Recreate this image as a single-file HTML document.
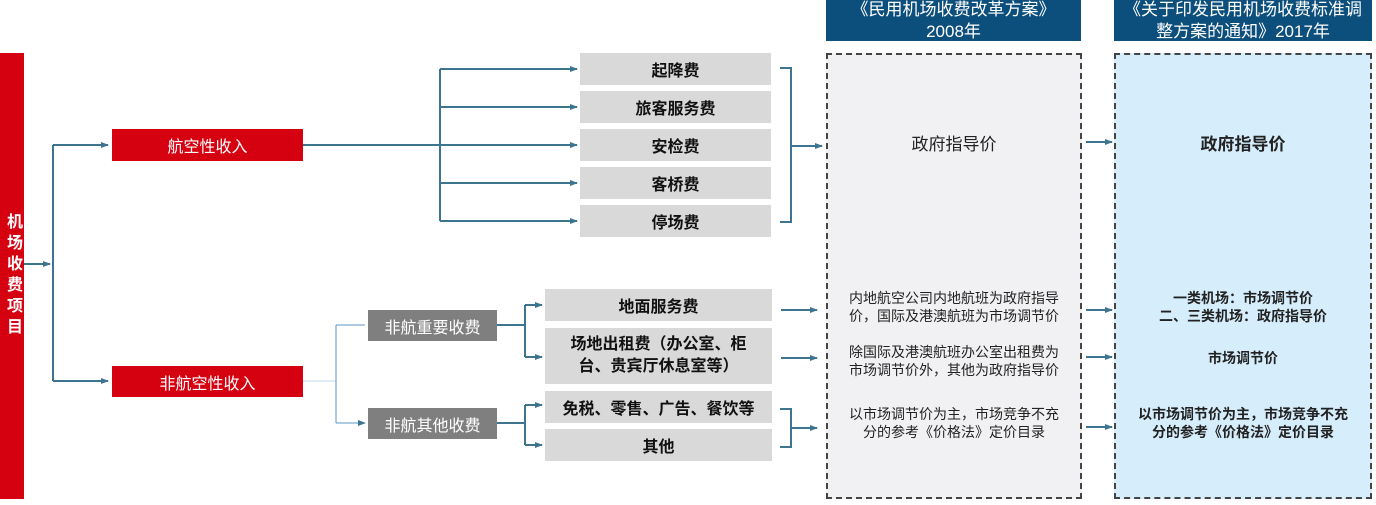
<!DOCTYPE html>
<html><head><meta charset="utf-8"><style>
body{margin:0;width:1376px;height:505px;background:#fff;position:relative;overflow:hidden;font-family:"Liberation Sans","Noto Sans CJK SC",sans-serif;}
.b{position:absolute;display:flex;align-items:center;justify-content:center;text-align:center;box-sizing:border-box;}
.red{background:#d50010;color:#fff;font-size:16px;}
.gry{background:#d9d9d9;color:#111;font-size:16px;font-weight:bold;}
.dg{background:#7f7f7f;color:#fff;font-size:16px;}
.hd{background:#0d4f7c;color:#fff;font-size:17px;line-height:22px;}
.t{position:absolute;text-align:center;font-size:14px;line-height:18px;color:#222;}
</style></head><body>
<div class="b red" style="left:0;top:53px;width:24px;height:446px;writing-mode:vertical-rl;font-weight:bold;font-size:16px;letter-spacing:5px">机场收费项目</div>
<div class="b red" style="left:112px;top:129px;width:191px;height:32px">航空性收入</div>
<div class="b red" style="left:112px;top:366px;width:191px;height:31px">非航空性收入</div>
<div class="b gry" style="left:580px;top:53px;width:191px;height:32px">起降费</div>
<div class="b gry" style="left:580px;top:91px;width:191px;height:32px">旅客服务费</div>
<div class="b gry" style="left:580px;top:129px;width:191px;height:32px">安检费</div>
<div class="b gry" style="left:580px;top:167px;width:191px;height:32px">客桥费</div>
<div class="b gry" style="left:580px;top:205px;width:191px;height:32px">停场费</div>
<div class="b dg" style="left:368px;top:310px;width:129px;height:31px">非航重要收费</div>
<div class="b dg" style="left:368px;top:408px;width:129px;height:31px">非航其他收费</div>
<div class="b gry" style="left:545px;top:289px;width:227px;height:32px">地面服务费</div>
<div class="b gry" style="left:545px;top:328px;width:227px;height:56px;line-height:22px">场地出租费（办公室、柜<br>台、贵宾厅休息室等）</div>
<div class="b gry" style="left:545px;top:391px;width:227px;height:32px">免税、零售、广告、餐饮等</div>
<div class="b gry" style="left:545px;top:429px;width:227px;height:32px">其他</div>
<div class="b hd" style="left:826px;top:0;width:255px;height:41px">《民用机场收费改革方案》<br>2008年</div>
<div class="b hd" style="left:1114px;top:0;width:258px;height:41px">《关于印发民用机场收费标准调<br>整方案的通知》2017年</div>
<div style="position:absolute;left:826px;top:53px;width:256px;height:446px;box-sizing:border-box;border:2px dashed #444;background:#f1f1f3"></div>
<div style="position:absolute;left:1114px;top:53px;width:258px;height:446px;box-sizing:border-box;border:2px dashed #444;background:#d6eefc"></div>
<div class="t" style="left:826px;top:136px;width:256px;font-size:17px">政府指导价</div>
<div class="t" style="left:826px;top:289px;width:256px">内地航空公司内地航班为政府指导<br>价，国际及港澳航班为市场调节价</div>
<div class="t" style="left:826px;top:343px;width:256px">除国际及港澳航班办公室出租费为<br>市场调节价外，其他为政府指导价</div>
<div class="t" style="left:826px;top:405px;width:256px">以市场调节价为主，市场竞争不充<br>分的参考《价格法》定价目录</div>
<div class="t" style="left:1114px;top:136px;width:258px;font-size:17px;font-weight:bold">政府指导价</div>
<div class="t" style="left:1114px;top:289px;width:258px;font-weight:bold">一类机场：市场调节价<br>二、三类机场：政府指导价</div>
<div class="t" style="left:1114px;top:349px;width:258px;font-weight:bold">市场调节价</div>
<div class="t" style="left:1114px;top:405px;width:258px;font-weight:bold">以市场调节价为主，市场竞争不充<br>分的参考《价格法》定价目录</div>
<svg width="1376" height="505" style="position:absolute;left:0;top:0" fill="none" stroke="#3d7590" stroke-width="2">
<defs><marker id="a" markerWidth="8" markerHeight="8" refX="7" refY="4" orient="auto" markerUnits="userSpaceOnUse"><path d="M0,1 L8,4 L0,7z" fill="#3d7590" stroke="none"/></marker></defs>
<path d="M24,264 H50" marker-end="url(#a)"/>
<path d="M53,145 V381"/>
<path d="M53,145 H108" marker-end="url(#a)"/>
<path d="M53,381 H108" marker-end="url(#a)"/>
<path d="M303,145 H440"/>
<path d="M440,69 V221"/>
<path d="M440,69 H577" marker-end="url(#a)"/>
<path d="M440,107 H577" marker-end="url(#a)"/>
<path d="M440,145 H577" marker-end="url(#a)"/>
<path d="M440,183 H577" marker-end="url(#a)"/>
<path d="M440,221 H577" marker-end="url(#a)"/>
<path d="M780,68 H791 V222 H780 M791,146 H822" marker-end="url(#a)"/>
<path d="M303,381 H336" stroke="#c5d9ea" stroke-width="1"/>
<path d="M336,325 V423 M336,325 H365 M336,423 H365" stroke="#5c95c6" stroke-width="1" marker-end="url(#a)"/>
<path d="M497,325 H525 M525,305 V357 M525,305 H542" marker-end="url(#a)"/>
<path d="M525,357 H542" marker-end="url(#a)"/>
<path d="M497,423 H525 M525,405 V445 M525,405 H542" marker-end="url(#a)"/>
<path d="M525,445 H542" marker-end="url(#a)"/>
<path d="M781,310 H817" marker-end="url(#a)"/>
<path d="M781,358 H817" marker-end="url(#a)"/>
<path d="M780,409 H791 V447 H780 M791,428 H817" marker-end="url(#a)"/>
<path d="M1086,142 H1112" marker-end="url(#a)"/>
<path d="M1086,310 H1112" marker-end="url(#a)"/>
<path d="M1086,357 H1112" marker-end="url(#a)"/>
<path d="M1086,427 H1112" marker-end="url(#a)"/>
</svg>
</body></html>
